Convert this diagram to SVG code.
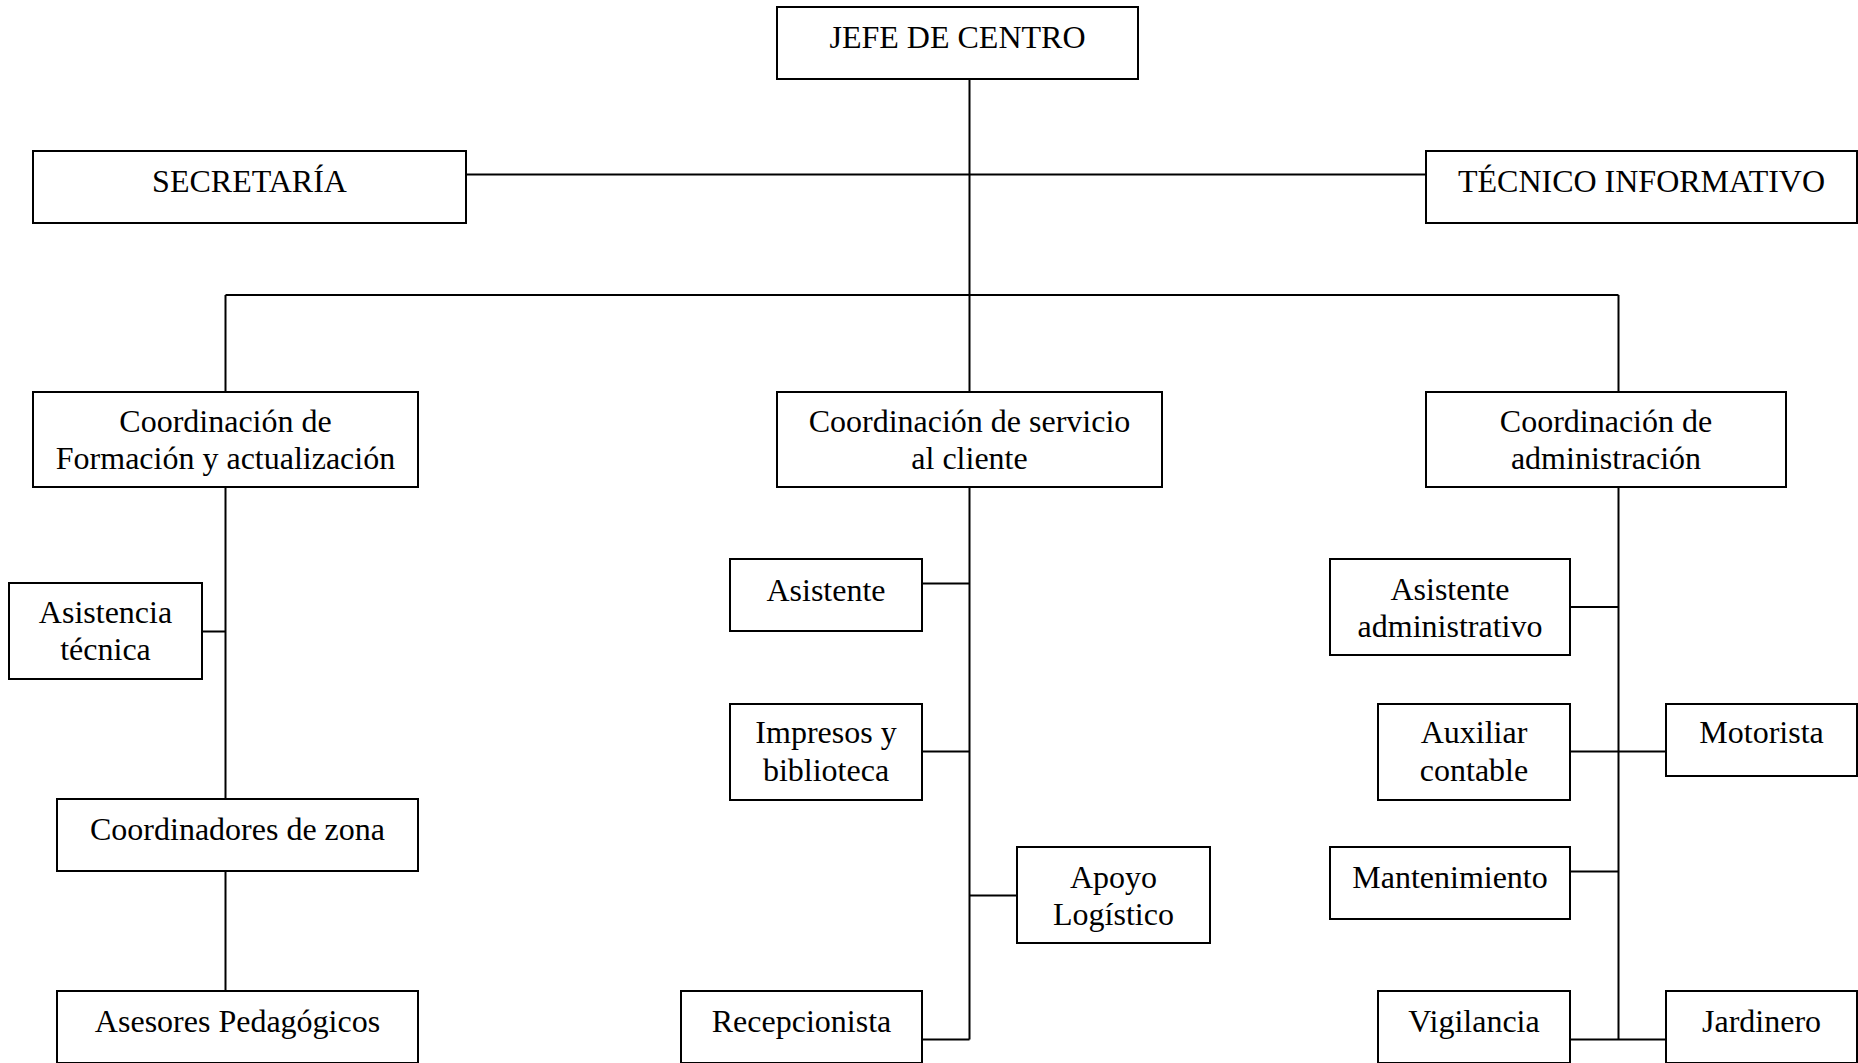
<svg xmlns="http://www.w3.org/2000/svg" width="1858" height="1063" viewBox="0 0 1858 1063">
<style>
.box{fill:#fff;stroke:#000;stroke-width:2}
.lbl{font-family:"Liberation Serif","Times New Roman",serif;font-size:32px;fill:#000;text-anchor:middle}
.con{stroke:#000;stroke-width:2;fill:none}
</style>
<rect width="1858" height="1063" fill="#fff"/>
<g id="connectors">
<path class="con" d="M969.5 79V392M466 174.5H1426M225.5 295H1618.5M225.5 295V392M1618.5 295V392"/>
<path class="con" d="M225.5 487V799M202 631.5H225.5M225.5 871V991"/>
<path class="con" d="M969.5 487V1039.5M922 583.5H969.5M922 751.5H969.5M969.5 895.5H1017M922 1039.5H969.5"/>
<path class="con" d="M1618.5 487V1039.5M1570 607H1618.5M1570 751.5H1666M1570 871.5H1618.5M1570 1039.5H1666"/>
</g>
<g id="jefe"><rect class="box" x="777" y="7" width="361" height="72"/><text class="lbl" x="957.5" y="48">JEFE DE CENTRO</text></g>
<g id="secretaria"><rect class="box" x="33" y="151" width="433" height="72"/><text class="lbl" x="249.5" y="192">SECRETARÍA</text></g>
<g id="tecnico"><rect class="box" x="1426" y="151" width="431" height="72"/><text class="lbl" x="1641.5" y="192">TÉCNICO INFORMATIVO</text></g>
<g id="coord-formacion"><rect class="box" x="33" y="392" width="385" height="95"/><text class="lbl" x="225.5" y="432">Coordinación de</text><text class="lbl" x="225.5" y="469">Formación y actualización</text></g>
<g id="coord-servicio"><rect class="box" x="777" y="392" width="385" height="95"/><text class="lbl" x="969.5" y="432">Coordinación de servicio</text><text class="lbl" x="969.5" y="469">al cliente</text></g>
<g id="coord-admin"><rect class="box" x="1426" y="392" width="360" height="95"/><text class="lbl" x="1606" y="432">Coordinación de</text><text class="lbl" x="1606" y="469">administración</text></g>
<g id="asistencia-tecnica"><rect class="box" x="9" y="583" width="193" height="96"/><text class="lbl" x="105.5" y="623">Asistencia</text><text class="lbl" x="105.5" y="660">técnica</text></g>
<g id="coordinadores-zona"><rect class="box" x="57" y="799" width="361" height="72"/><text class="lbl" x="237.5" y="840">Coordinadores de zona</text></g>
<g id="asesores"><rect class="box" x="57" y="991" width="361" height="72"/><text class="lbl" x="237.5" y="1032">Asesores Pedagógicos</text></g>
<g id="asistente"><rect class="box" x="730" y="559" width="192" height="72"/><text class="lbl" x="826" y="601">Asistente</text></g>
<g id="impresos"><rect class="box" x="730" y="704" width="192" height="96"/><text class="lbl" x="826" y="743">Impresos y</text><text class="lbl" x="826" y="781">biblioteca</text></g>
<g id="apoyo"><rect class="box" x="1017" y="847" width="193" height="96"/><text class="lbl" x="1113.5" y="888">Apoyo</text><text class="lbl" x="1113.5" y="925">Logístico</text></g>
<g id="recepcionista"><rect class="box" x="681" y="991" width="241" height="72"/><text class="lbl" x="801.5" y="1032">Recepcionista</text></g>
<g id="asistente-admin"><rect class="box" x="1330" y="559" width="240" height="96"/><text class="lbl" x="1450" y="600">Asistente</text><text class="lbl" x="1450" y="637">administrativo</text></g>
<g id="auxiliar"><rect class="box" x="1378" y="704" width="192" height="96"/><text class="lbl" x="1474" y="743">Auxiliar</text><text class="lbl" x="1474" y="781">contable</text></g>
<g id="motorista"><rect class="box" x="1666" y="704" width="191" height="72"/><text class="lbl" x="1761.5" y="743">Motorista</text></g>
<g id="mantenimiento"><rect class="box" x="1330" y="847" width="240" height="72"/><text class="lbl" x="1450" y="888">Mantenimiento</text></g>
<g id="vigilancia"><rect class="box" x="1378" y="991" width="192" height="72"/><text class="lbl" x="1474" y="1032">Vigilancia</text></g>
<g id="jardinero"><rect class="box" x="1666" y="991" width="191" height="72"/><text class="lbl" x="1761.5" y="1032">Jardinero</text></g>
</svg>
